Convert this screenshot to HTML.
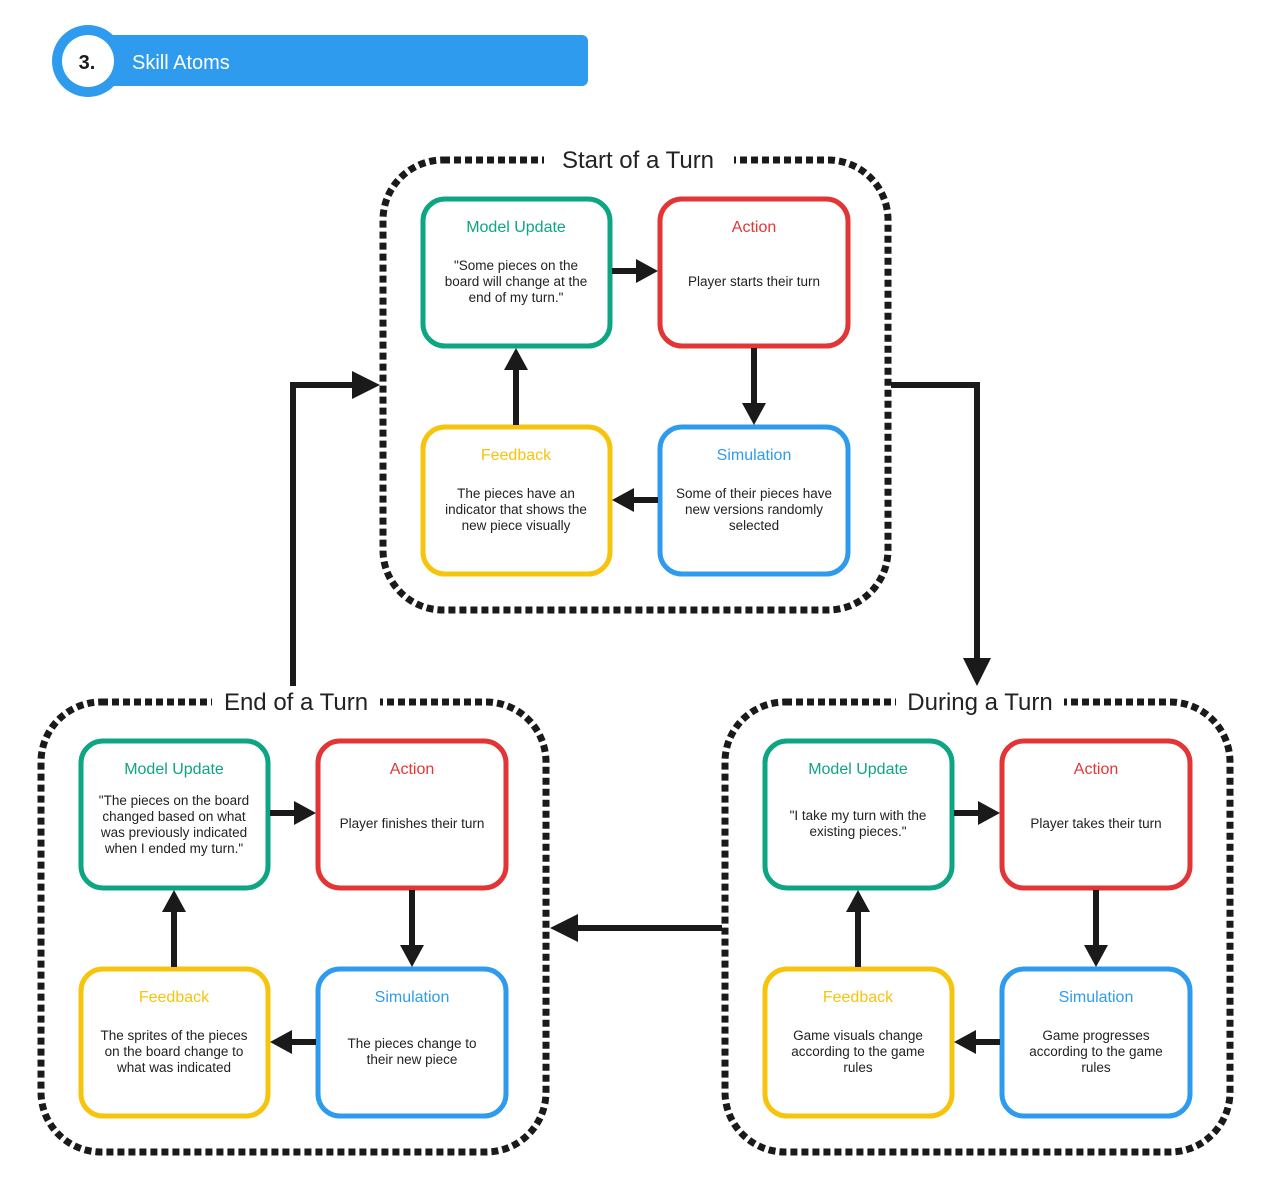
<!DOCTYPE html>
<html><head><meta charset="utf-8"><style>
html,body{margin:0;padding:0;background:#fff;}
svg{display:block;font-family:"Liberation Sans",sans-serif;}
.t{font-size:16px;text-anchor:middle;}
.b{font-size:13.5px;text-anchor:middle;fill:#222;}
.gt{font-size:24px;text-anchor:middle;fill:#222;}
</style></head><body>
<svg width="1271" height="1203" viewBox="0 0 1271 1203" xmlns="http://www.w3.org/2000/svg">
<defs>
<g id="frame">
  <rect x="383" y="160" width="505" height="450" rx="60" fill="none" stroke="#1a1a1a" stroke-width="7" stroke-dasharray="7 4"/>
  <rect x="423" y="199" width="187" height="147" rx="22" fill="#fff" stroke="#0ea584" stroke-width="5"/>
  <rect x="660" y="199" width="188" height="147" rx="22" fill="#fff" stroke="#e43536" stroke-width="5"/>
  <rect x="423" y="427" width="187" height="147" rx="22" fill="#fff" stroke="#f6c40c" stroke-width="5"/>
  <rect x="660" y="427" width="188" height="147" rx="22" fill="#fff" stroke="#2f9bef" stroke-width="5"/>
  <g fill="#1a1a1a" stroke="#1a1a1a">
    <line x1="612" y1="271" x2="637" y2="271" stroke-width="6"/><polygon points="636,259 658,271 636,283" stroke="none"/>
    <line x1="754" y1="348" x2="754" y2="404" stroke-width="6"/><polygon points="742,403 754,425 766,403" stroke="none"/>
    <line x1="658" y1="500" x2="633" y2="500" stroke-width="6"/><polygon points="634,488 612,500 634,512" stroke="none"/>
    <line x1="516" y1="425" x2="516" y2="369" stroke-width="6"/><polygon points="504,370 516,348 528,370" stroke="none"/>
  </g>
  <text class="t" x="516" y="232" fill="#0ea584">Model Update</text>
  <text class="t" x="754" y="232" fill="#e43536">Action</text>
  <text class="t" x="516" y="460" fill="#f6c40c">Feedback</text>
  <text class="t" x="754" y="460" fill="#2f9bef">Simulation</text>
</g>
</defs>

<!-- header -->
<rect x="80" y="35" width="508" height="51" rx="6" fill="#2f9bef"/>
<circle cx="88" cy="61" r="36" fill="#2f9bef"/>
<circle cx="88" cy="61" r="26" fill="#fff"/>
<text x="87" y="69" font-size="20" font-weight="bold" text-anchor="middle" fill="#1a1a1a">3.</text>
<text x="132" y="69" font-size="20" fill="#fff">Skill Atoms</text>

<!-- group 1 -->
<use href="#frame"/>
<rect x="544" y="145" width="190" height="30" fill="#fff"/>
<text class="gt" x="638" y="168">Start of a Turn</text>
<text class="b" x="516" y="270">"Some pieces on the</text>
<text class="b" x="516" y="286">board will change at the</text>
<text class="b" x="516" y="302">end of my turn."</text>
<text class="b" x="754" y="286">Player starts their turn</text>
<text class="b" x="516" y="498">The pieces have an</text>
<text class="b" x="516" y="514">indicator that shows the</text>
<text class="b" x="516" y="530">new piece visually</text>
<text class="b" x="754" y="498">Some of their pieces have</text>
<text class="b" x="754" y="514">new versions randomly</text>
<text class="b" x="754" y="530">selected</text>

<!-- group 2: End -->
<g transform="translate(-342,542)">
<use href="#frame"/>
<rect x="554" y="145" width="168" height="30" fill="#fff"/>
<text class="gt" x="638" y="168">End of a Turn</text>
<text class="b" x="516" y="263">"The pieces on the board</text>
<text class="b" x="516" y="279">changed based on what</text>
<text class="b" x="516" y="295">was previously indicated</text>
<text class="b" x="516" y="311">when I ended my turn."</text>
<text class="b" x="754" y="286">Player finishes their turn</text>
<text class="b" x="516" y="498">The sprites of the pieces</text>
<text class="b" x="516" y="514">on the board change to</text>
<text class="b" x="516" y="530">what was indicated</text>
<text class="b" x="754" y="506">The pieces change to</text>
<text class="b" x="754" y="522">their new piece</text>
</g>

<!-- group 3: During -->
<g transform="translate(342,542)">
<use href="#frame"/>
<rect x="554" y="145" width="168" height="30" fill="#fff"/>
<text class="gt" x="638" y="168">During a Turn</text>
<text class="b" x="516" y="278">"I take my turn with the</text>
<text class="b" x="516" y="294">existing pieces."</text>
<text class="b" x="754" y="286">Player takes their turn</text>
<text class="b" x="516" y="498">Game visuals change</text>
<text class="b" x="516" y="514">according to the game</text>
<text class="b" x="516" y="530">rules</text>
<text class="b" x="754" y="498">Game progresses</text>
<text class="b" x="754" y="514">according to the game</text>
<text class="b" x="754" y="530">rules</text>
</g>

<!-- connectors -->
<g fill="#1a1a1a">
  <polyline points="891,385 977,385 977,660" fill="none" stroke="#1a1a1a" stroke-width="6"/>
  <polygon points="963,658 977,686 991,658"/>
  <line x1="722" y1="928" x2="575" y2="928" stroke="#1a1a1a" stroke-width="6"/>
  <polygon points="578,914 550,928 578,942"/>
  <polyline points="293,686 293,385 354,385" fill="none" stroke="#1a1a1a" stroke-width="6"/>
  <polygon points="352,371 380,385 352,399"/>
</g>
</svg>
</body></html>
